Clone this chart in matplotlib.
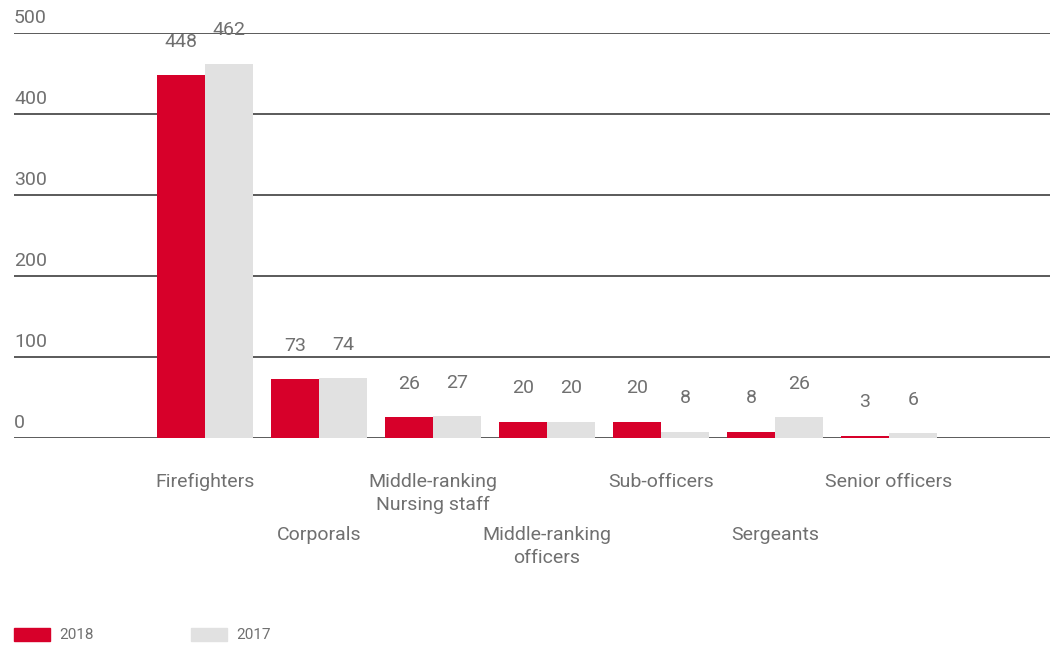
import matplotlib
matplotlib.use("Agg")
import matplotlib.pyplot as plt
from matplotlib.patches import Rectangle
from matplotlib import transforms
import numpy as np

categories = ["Firefighters", "Corporals", "Middle-ranking\nNursing staff",
              "Middle-ranking\nofficers", "Sub-officers", "Sergeants", "Senior officers"]
values_2018 = [448, 73, 26, 20, 20, 8, 3]
values_2017 = [462, 74, 27, 20, 8, 26, 6]
series_labels = ["2018", "2017"]
y_ticks = [0, 100, 200, 300, 400, 500]

RED = "#D7002A"
GREY = "#E1E1E1"
TEXT = "#707070"
LINE = "#5A5A5A"
FS = 14

plt.rcParams["font.family"] = ["Roboto", "DejaVu Sans"]
W, H = 1058, 648
fig = plt.figure(figsize=(W / 100, H / 100), dpi=100)
ax = fig.add_axes([14 / W, (H - 438) / H, 1036 / W, 405 / H])

x = np.arange(len(categories))
bw = 48 / 114
ax.bar(x - bw / 2, values_2018, bw, color=RED, zorder=3)
ax.bar(x + bw / 2, values_2017, bw, color=GREY, zorder=3)

ax.set_xlim(-191 / 114, 845 / 114)
ax.set_ylim(0, 500)
for s in ax.spines.values():
    s.set_visible(False)
ax.set_xticks([])
ax.set_yticks([])

# horizontal grid lines with labels sitting above them
for t in y_ticks:
    ax.axhline(t, color=LINE, lw=1.4, zorder=2)
    ax.annotate(str(t), xy=(0, t), xycoords=("axes fraction", "data"),
                xytext=(0, 4), textcoords="offset points",
                ha="left", va="bottom", fontsize=FS, color=TEXT)

# value labels above bars
for i in range(len(categories)):
    for dx, v in ((-bw / 2, values_2018[i]), (bw / 2, values_2017[i])):
        ax.annotate(str(v), xy=(x[i] + dx, v), xytext=(0, 24),
                    textcoords="offset points", ha="center", va="center",
                    fontsize=FS, color=TEXT, annotation_clip=False)

# category labels in two staggered rows
trans = transforms.blended_transform_factory(ax.transData, fig.transFigure)
for i, c in enumerate(categories):
    ypix = 482 if i % 2 == 0 else 535
    ax.text(x[i], 1 - (ypix - 9) / H, c, transform=trans, ha="center", va="top",
            fontsize=FS, color=TEXT, linespacing=1.37)

# legend
for (x0, col, lab) in ((14, RED, series_labels[0]), (191, GREY, series_labels[1])):
    fig.patches.append(Rectangle((x0 / W, 1 - 641 / H), 36 / W, 13 / H,
                                 transform=fig.transFigure, color=col))
    fig.text((x0 + 45) / W, 1 - 635 / H, lab, ha="left", va="center",
             fontsize=11, color=TEXT)

fig.savefig("out.png", dpi=100)
